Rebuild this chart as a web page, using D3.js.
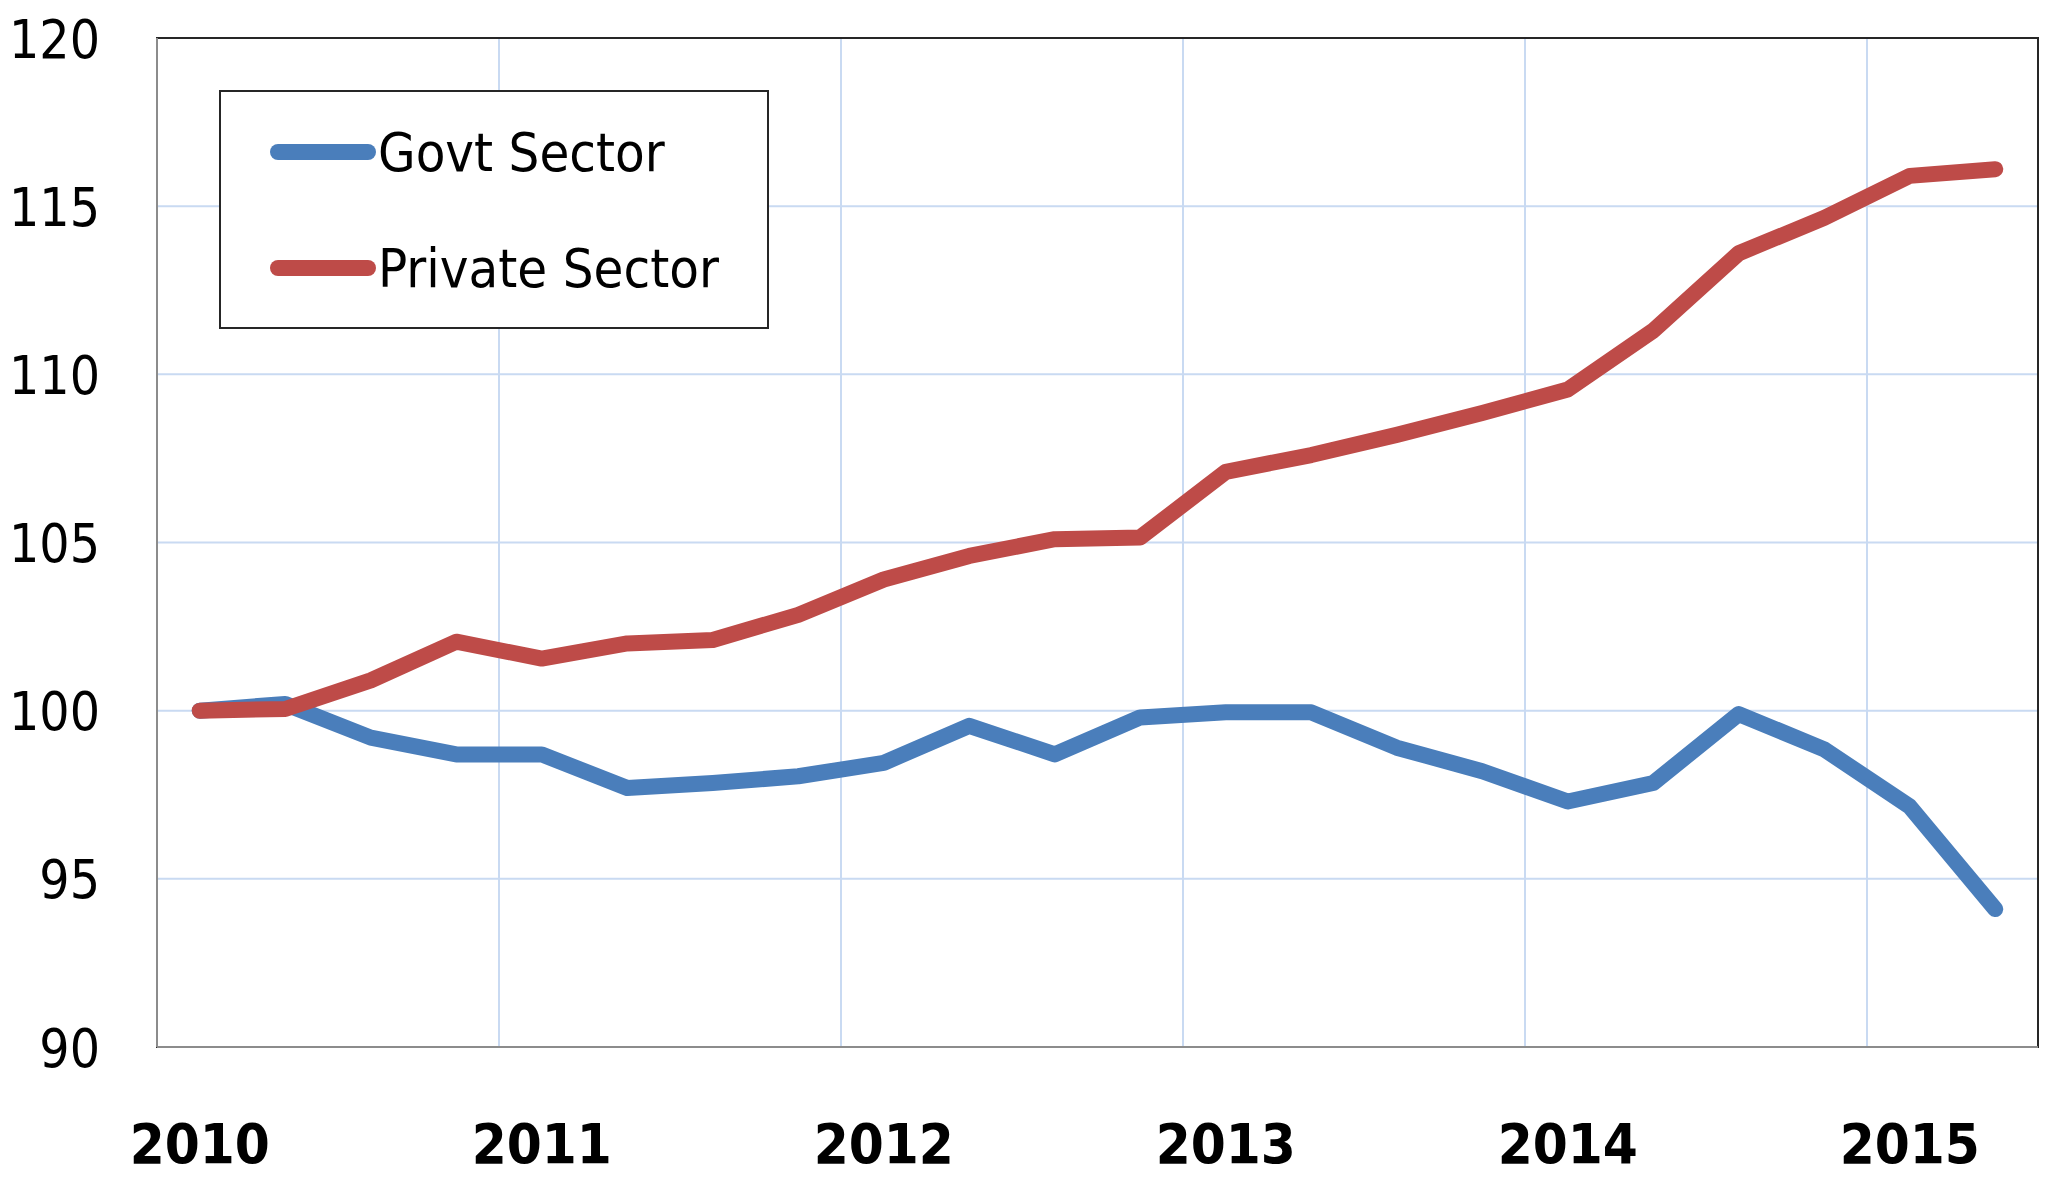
<!DOCTYPE html>
<html>
<head>
<meta charset="utf-8">
<script src="https://cdn.jsdelivr.net/npm/d3@7"></script>
<style>
  body { margin: 0; background: #fff; }
  svg { display: block; }
  .axis path, .axis line { display: none; }
  .y-axis text, .x-axis text, .legend-label {
    font-family: "DejaVu Sans Condensed", "DejaVu Sans", sans-serif;
    font-stretch: condensed;
    fill: #000;
  }
  .y-axis text { font-size: 53px; }
  .x-axis text { font-size: 56px; font-weight: bold; }
  .legend-label { font-size: 54px; }
</style>
</head>
<body>
<div id="chart"></div>
<script>
const quarters = [
  "2010Q1", "2010Q2", "2010Q3", "2010Q4",
  "2011Q1", "2011Q2", "2011Q3", "2011Q4",
  "2012Q1", "2012Q2", "2012Q3", "2012Q4",
  "2013Q1", "2013Q2", "2013Q3", "2013Q4",
  "2014Q1", "2014Q2", "2014Q3", "2014Q4",
  "2015Q1", "2015Q2",
];
const govtSector = [
  100.0, 100.2, 99.2, 98.7, 98.7, 97.7, 97.85, 98.05, 98.45, 99.55, 98.7,
  99.8, 99.95, 99.95, 98.9, 98.2, 97.3, 97.85, 99.9, 98.85, 97.15, 94.1,
];
const privateSector = [
  100.0, 100.05, 100.9, 102.05, 101.55, 102.0, 102.1, 102.85, 103.9, 104.6,
  105.1, 105.15, 107.1, 107.6, 108.2, 108.85, 109.55, 111.3, 113.6, 114.65,
  115.9, 116.1,
];
const yTicks = [90, 95, 100, 105, 110, 115, 120];
const yearTicks = ["2010Q1", "2011Q1", "2012Q1", "2013Q1", "2014Q1", "2015Q1"];

const series = [
  { name: "Govt Sector", values: govtSector, color: "#4a7ebb" },
  { name: "Private Sector", values: privateSector, color: "#be4b48" },
];

const W = 2050, H = 1179;
const m = { top: 38, right: 12, bottom: 132, left: 157 };
const width = W - m.left - m.right;
const height = H - m.top - m.bottom;

const svg = d3.select("#chart").append("svg")
  .attr("width", W)
  .attr("height", H);

const g = svg.append("g").attr("transform", `translate(${m.left},${m.top})`);

const x = d3.scaleBand().domain(quarters).range([0, width]).padding(0);
const y = d3.scaleLinear().domain([90, 120]).range([height, 0]);
const cx = (q) => x(q) + x.bandwidth() / 2;

// gridlines
g.append("g").selectAll("line.hgrid")
  .data(yTicks.slice(1, -1))
  .join("line")
  .attr("x1", 0).attr("x2", width)
  .attr("y1", (d) => y(d)).attr("y2", (d) => y(d))
  .attr("stroke", "#c9daf2").attr("stroke-width", 2);

g.append("g").selectAll("line.vgrid")
  .data(yearTicks.slice(1))
  .join("line")
  .attr("x1", (d) => x(d)).attr("x2", (d) => x(d))
  .attr("y1", 0).attr("y2", height)
  .attr("stroke", "#c9daf2").attr("stroke-width", 2);

// plot border
g.append("rect")
  .attr("width", width).attr("height", height)
  .attr("fill", "none").attr("stroke", "#262626").attr("stroke-width", 2);
g.append("line")
  .attr("x1", 0).attr("x2", 0).attr("y1", 0).attr("y2", height)
  .attr("stroke", "#8c8c8c").attr("stroke-width", 2);
g.append("line")
  .attr("x1", 0).attr("x2", width).attr("y1", height).attr("y2", height)
  .attr("stroke", "#8c8c8c").attr("stroke-width", 2);

// axes
g.append("g")
  .attr("class", "axis y-axis")
  .attr("transform", "translate(-57,0)")
  .call(d3.axisLeft(y).tickValues(yTicks).tickSize(0).tickPadding(0))
  .selectAll("text").attr("dy", "0.36em");

g.append("g")
  .attr("class", "axis x-axis")
  .attr("transform", `translate(0,${height})`)
  .call(d3.axisBottom(x).tickValues(yearTicks).tickSize(0).tickPadding(0)
    .tickFormat((d) => d.slice(0, 4)))
  .selectAll("text").attr("dy", null).attr("y", 116);

// lines
const line = d3.line()
  .x((d, i) => cx(quarters[i]))
  .y((d) => y(d));

g.selectAll("path.series")
  .data(series)
  .join("path")
  .attr("class", "series")
  .attr("d", (d) => line(d.values))
  .attr("fill", "none")
  .attr("stroke", (d) => d.color)
  .attr("stroke-width", 16)
  .attr("stroke-linejoin", "round")
  .attr("stroke-linecap", "round");

// legend
const legend = svg.append("g").attr("transform", "translate(220,91)");
legend.append("rect")
  .attr("width", 548).attr("height", 237)
  .attr("fill", "#fff").attr("stroke", "#262626").attr("stroke-width", 2);

const items = legend.selectAll("g.item")
  .data(series)
  .join("g")
  .attr("class", "item")
  .attr("transform", (d, i) => `translate(0,${61 + i * 116})`);

items.append("line")
  .attr("x1", 58).attr("x2", 148)
  .attr("stroke", (d) => d.color)
  .attr("stroke-width", 16)
  .attr("stroke-linecap", "round");

items.append("text")
  .attr("class", "legend-label")
  .attr("x", 158)
  .attr("dy", "0.36em")
  .text((d) => d.name);
</script>
</body>
</html>
